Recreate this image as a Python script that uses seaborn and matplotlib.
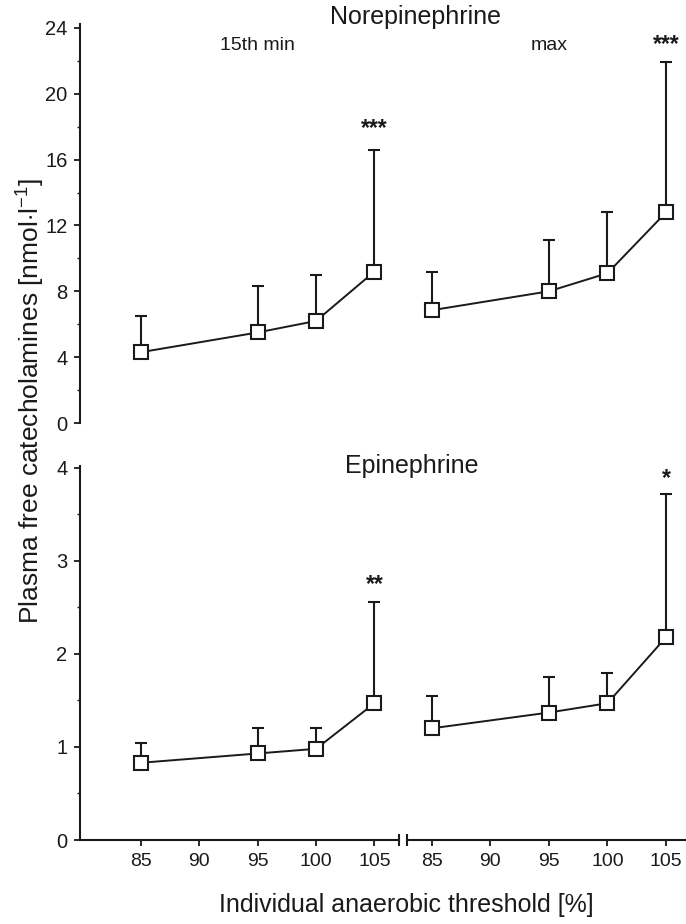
import numpy as np
import pandas as pd
import matplotlib
matplotlib.use("Agg")
import matplotlib.pyplot as plt
from matplotlib.ticker import MultipleLocator
import seaborn as sns

# Exercise intensity relative to the individual anaerobic threshold [%]
pct = [85, 95, 100, 105]

# Norepinephrine [nmol/l]: means and upper SD
ne_15 = [4.3, 5.5, 6.2, 9.2]
ne_15_sd = [2.2, 2.85, 2.8, 7.4]
ne_max = [6.85, 8.0, 9.1, 12.8]
ne_max_sd = [2.35, 3.1, 3.7, 9.15]

# Epinephrine [nmol/l]: means and upper SD
ep_15 = [0.83, 0.93, 0.98, 1.47]
ep_15_sd = [0.21, 0.27, 0.22, 1.09]
ep_max = [1.2, 1.37, 1.47, 2.18]
ep_max_sd = [0.35, 0.38, 0.33, 1.54]

# Significance markers for the 105 % stage
sig_ne = ["***", "***"]
sig_ep = ["**", "*"]

ink = "#1a1a1a"
sns.set_style("ticks")
plt.rcParams["font.family"] = ["Liberation Sans", "DejaVu Sans"]
plt.rcParams.update({
    "axes.edgecolor": ink, "axes.linewidth": 1.5,
    "xtick.color": ink, "ytick.color": ink,
    "xtick.labelcolor": ink, "ytick.labelcolor": ink,
    "text.color": ink,
    "mathtext.fontset": "custom",
    "mathtext.rm": "Liberation Sans",
})

W, H = 686, 924
fig = plt.figure(figsize=(W / 100, H / 100), dpi=100)


def px_axes(x0, x1, ytop, ybot):
    return fig.add_axes([x0 / W, 1 - ybot / H, (x1 - x0) / W, (ybot - ytop) / H])


ax_nl = px_axes(80, 399, 24, 423)
ax_nr = px_axes(407, 686, 24, 423)
ax_el = px_axes(80, 399, 466, 840)
ax_er = px_axes(407, 686, 466, 840)


def draw(ax, mean, sd, sig, off):
    df = pd.DataFrame({"pct": pct, "val": mean})
    ax.errorbar(pct, mean, yerr=[np.zeros(len(sd)), sd], fmt="none",
                ecolor=ink, elinewidth=1.5, capsize=4.5, capthick=1.5, zorder=2)
    sns.lineplot(data=df, x="pct", y="val", ax=ax, color=ink, lw=1.4,
                 marker="s", markersize=10, markerfacecolor="white",
                 markeredgecolor=ink, markeredgewidth=1.5, zorder=3)
    ax.annotate(sig, (pct[-1], mean[-1] + sd[-1]), xytext=(0, off),
                textcoords="offset points", ha="center", va="center",
                fontsize=16.5, fontweight="bold")
    ax.set_xlabel("")
    ax.set_ylabel("")


draw(ax_nl, ne_15, ne_15_sd, sig_ne[0], 15)
draw(ax_nr, ne_max, ne_max_sd, sig_ne[1], 12.5)
draw(ax_el, ep_15, ep_15_sd, sig_ep[0], 12.5)
draw(ax_er, ep_max, ep_max_sd, sig_ep[1], 11)

for ax in (ax_nl, ax_el):
    ax.set_xlim(79.8, 107.1)
for ax in (ax_nr, ax_er):
    ax.set_xlim(82.9, 106.7)

for ax in (ax_nl, ax_nr):
    ax.set_ylim(0, 24.24)
for ax in (ax_el, ax_er):
    ax.set_ylim(0, 4.02)

# Y axes on the left-hand panels only
ax_nl.yaxis.set_major_locator(MultipleLocator(4))
ax_nl.yaxis.set_minor_locator(MultipleLocator(2))
ax_el.yaxis.set_major_locator(MultipleLocator(1))
ax_el.yaxis.set_minor_locator(MultipleLocator(0.5))
for ax in (ax_nl, ax_el):
    ax.tick_params(axis="y", which="major", direction="out", length=4.5,
                   width=1.3, labelsize=14.5, pad=4.5)
    ax.tick_params(axis="y", which="minor", direction="out", length=2.5, width=1.0)
    ax.spines["right"].set_visible(False)
    ax.spines["top"].set_visible(False)

for ax in (ax_nr, ax_er):
    ax.spines["left"].set_visible(False)
    ax.spines["right"].set_visible(False)
    ax.spines["top"].set_visible(False)
    ax.set_yticks([])

for ax in (ax_nl, ax_nr):
    ax.spines["bottom"].set_visible(False)
    ax.set_xticks([])

# Shared x axis with a break between the two time points
for ax in (ax_el, ax_er):
    ax.set_xticks([85, 90, 95, 100, 105])
    ax.tick_params(axis="x", direction="out", length=4, width=1.3,
                   labelsize=14, pad=5)
    ax.spines["bottom"].set_linewidth(1.5)

for ax, xb in ((ax_el, 1.0), (ax_er, 0.0)):
    ax.plot([xb, xb], [-0.016, 0.016], transform=ax.transAxes, color=ink,
            lw=1.5, clip_on=False, solid_capstyle="butt")

# Panel titles and time-point labels
fig.text(415 / W, 1 - 17 / H, "Norepinephrine", ha="center", va="center", fontsize=18)
fig.text(257 / W, 1 - 45 / H, "15th min", ha="center", va="center", fontsize=14)
fig.text(549 / W, 1 - 45 / H, "max", ha="center", va="center", fontsize=14)
fig.text(412 / W, 1 - 466 / H, "Epinephrine", ha="center", va="center", fontsize=18)

fig.text(30 / W, 1 - 401 / H, "Plasma free catecholamines [nmol$\\cdot$l$^{-1}$]",
         rotation=90, ha="center", va="center", fontsize=19)
fig.text(406 / W, 1 - 905 / H, "Individual anaerobic threshold [%]",
         ha="center", va="center", fontsize=18)

fig.savefig("out.png", dpi=100, facecolor="white")
